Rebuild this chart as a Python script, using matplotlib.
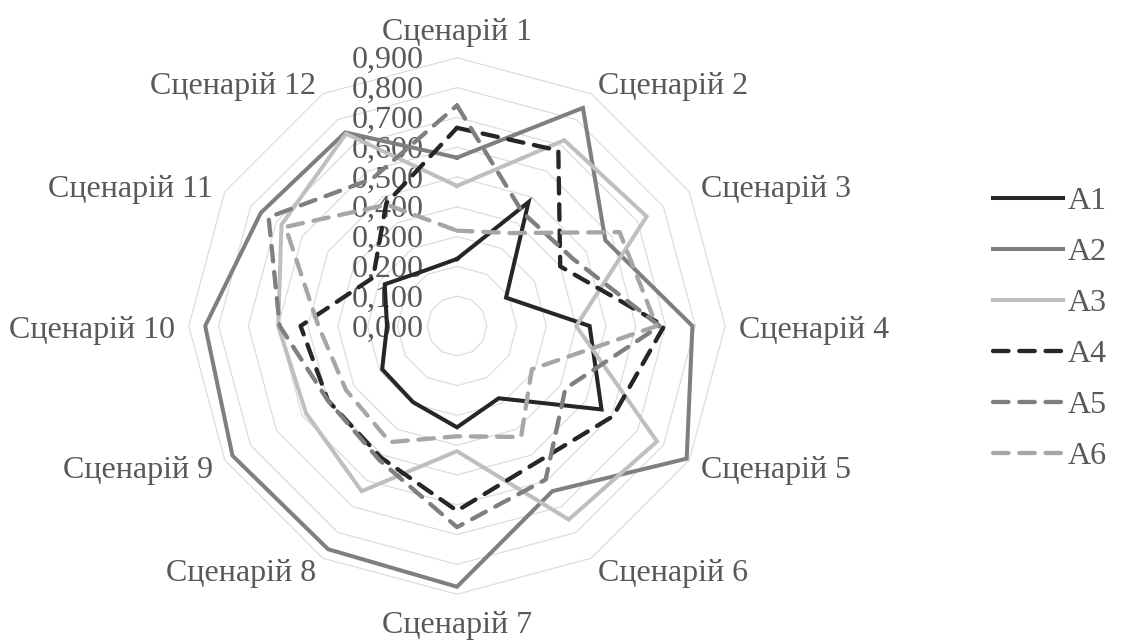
import matplotlib
matplotlib.use("Agg")
import numpy as np
import matplotlib.pyplot as plt
from matplotlib import transforms

# Scenario names around the radar
categories = ["Сценарій 1", "Сценарій 2", "Сценарій 3", "Сценарій 4",
              "Сценарій 5", "Сценарій 6", "Сценарій 7", "Сценарій 8",
              "Сценарій 9", "Сценарій 10", "Сценарій 11", "Сценарій 12"]

# Radial scale
levels = [0.0, 0.1, 0.2, 0.3, 0.4, 0.5, 0.6, 0.7, 0.8, 0.9]
level_labels = ["0,000", "0,100", "0,200", "0,300", "0,400",
                "0,500", "0,600", "0,700", "0,800", "0,900"]

# Alternative scores per scenario
series_names = ["A1", "A2", "A3", "A4", "A5", "A6"]
a1 = [0.225, 0.48, 0.19, 0.445, 0.56, 0.28, 0.34, 0.295, 0.29, 0.235, 0.28, 0.215]
a2 = [0.565, 0.845, 0.575, 0.79, 0.89, 0.64, 0.875, 0.865, 0.87, 0.845, 0.76, 0.75]
a3 = [0.47, 0.72, 0.735, 0.40, 0.775, 0.75, 0.42, 0.64, 0.585, 0.60, 0.68, 0.745]
a4 = [0.665, 0.68, 0.40, 0.695, 0.605, 0.53, 0.62, 0.51, 0.50, 0.525, 0.325, 0.475]
a5 = [0.74, 0.44, 0.45, 0.68, 0.42, 0.595, 0.675, 0.52, 0.50, 0.595, 0.73, 0.57]
a6 = [0.32, 0.36, 0.63, 0.67, 0.29, 0.43, 0.37, 0.45, 0.43, 0.465, 0.665, 0.47]
series_values = [a1, a2, a3, a4, a5, a6]

colors = ["#262626", "#7f7f7f", "#bfbfbf", "#262626", "#7f7f7f", "#a6a6a6"]
dashed = [False, False, False, True, True, True]

text_color = "#595959"
grid_color = "#d9d9d9"
font = "Liberation Serif"
fsize = 23

plt.rcParams["font.family"] = [font, "DejaVu Serif"]

W, H = 1121, 644
fig = plt.figure(figsize=(W / 100, H / 100), dpi=100)

cx, cy, rad = 457, 326, 268.2
ax = fig.add_axes([(cx - rad) / W, (H - cy - rad) / H, 2 * rad / W, 2 * rad / H],
                  projection="polar")
ax.set_theta_zero_location("N")
ax.set_theta_direction(-1)
ax.set_ylim(0, levels[-1])
ax.set_axis_off()

n = len(categories)
theta = np.linspace(0, 2 * np.pi, n, endpoint=False)
theta_closed = np.append(theta, theta[0])

# Polygonal grid rings
for lv in levels[1:]:
    ax.plot(theta_closed, np.full(n + 1, lv), color=grid_color, lw=0.8,
            zorder=1, clip_on=False)

# Radial value labels along the top spoke
off = transforms.offset_copy(ax.transData, fig=fig, x=-33, y=-3, units="dots")
for lv, lab in zip(levels, level_labels):
    ax.text(0, lv, lab, transform=off, ha="right", va="center",
            fontsize=fsize, color=text_color, zorder=2)

# Category labels
lab_tr = transforms.offset_copy(ax.transData, fig=fig, x=0, y=-4, units="dots")
for th, lab in zip(theta, categories):
    deg = np.degrees(th) % 360
    if np.isclose(deg, 0):
        r, ha = 1.0, "center"
    elif np.isclose(deg, 180):
        r, ha = 0.99, "center"
    elif deg < 180:
        r, ha = 0.945, "left"
    else:
        r, ha = 0.945, "right"
    ax.text(th, r, lab, transform=lab_tr, ha=ha, va="center",
            fontsize=fsize, color=text_color)

# Data series
handles = []
for name, vals, col, dsh in zip(series_names, series_values, colors, dashed):
    v = np.append(vals, vals[0])
    kw = dict(color=col, lw=2.9, label=name, zorder=3, clip_on=False,
              solid_joinstyle="miter")
    if dsh:
        kw.update(lw=3.1, linestyle=(0, (3.6, 2.5)), dash_capstyle="round",
                  dash_joinstyle="round")
    line, = ax.plot(theta_closed, v, **kw)
    handles.append(line)

fig.legend(handles=handles, labels=series_names, loc="center left",
           bbox_to_anchor=(993 / W, 1 - 329 / H), frameon=False,
           fontsize=fsize, labelcolor=text_color, handlelength=2.2,
           handletextpad=0.15, labelspacing=0.68, borderpad=0,
           borderaxespad=0)

fig.savefig("out.png", dpi=100)
